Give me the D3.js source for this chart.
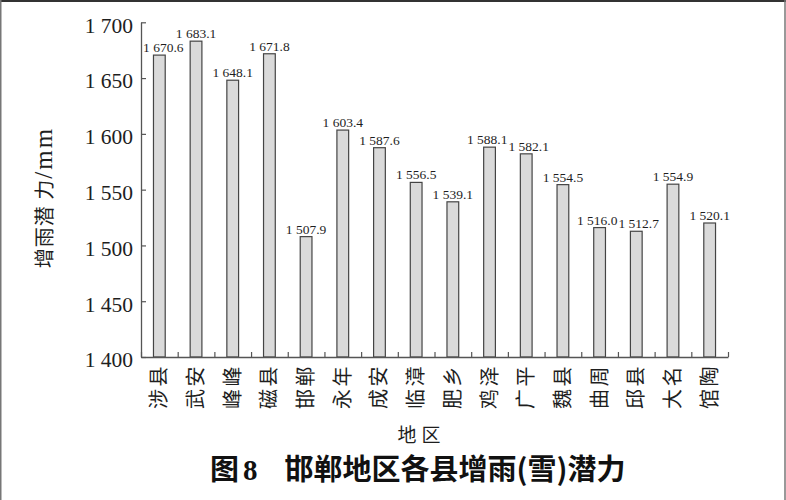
<!DOCTYPE html>
<html>
<head>
<meta charset="utf-8">
<script src="https://cdn.jsdelivr.net/npm/d3@7"></script>
<style>
  html, body { margin: 0; padding: 0; background: #fff; }
  svg { display: block; }
</style>
</head>
<body>
<div id="chart"></div>
<script>
// 邯郸地区各县增雨(雪)潜力 — single-series bar chart

const counties = ['涉县', '武安', '峰峰', '磁县', '邯郸', '永年', '成安', '临漳',
                  '肥乡', '鸡泽', '广平', '魏县', '曲周', '邱县', '大名', '馆陶'];
const potential = [1670.6, 1683.1, 1648.1, 1671.8, 1507.9, 1603.4, 1587.6, 1556.5,
                   1539.1, 1588.1, 1582.1, 1554.5, 1516.0, 1512.7, 1554.9, 1520.1];
const yTicks = [1400, 1450, 1500, 1550, 1600, 1650, 1700];

const yTitleCjk = '增雨潜 力';
const yTitleUnit = '/mm';
const xTitle = '地区';
const figNo = '8';
const figTitle = '邯郸地区各县增雨(雪)潜力';

const W = 786, H = 500;
const plot = { left: 141, right: 728, top: 22.3, bottom: 357 };

const SERIF = '"Liberation Serif", "Times New Roman", serif';
const CJK = '"Noto Sans CJK SC", "Noto Sans CJK TC", sans-serif';

// numbers grouped with a space, Chinese print style ("1 670.6")
const loc = d3.formatLocale({ decimal: '.', thousands: ' ', grouping: [3], currency: ['', ''] });
const fmtTick = loc.format(',d');
const fmtVal = loc.format(',.1f');

const data = counties.map((c, i) => ({ county: c, value: potential[i] }));

const svg = d3.select('#chart').append('svg')
    .attr('width', W)
    .attr('height', H);

// ── Scales ────────────────────────────────────────────────────────────────
const x = d3.scaleBand()
    .domain(counties)
    .range([plot.left, plot.right])
    .paddingInner(0.68)
    .paddingOuter(0.34);

// category boundaries, used for the small upward ticks
const xEdge = d3.scaleLinear()
    .domain([0, counties.length])
    .range([plot.left, plot.right]);

const y = d3.scaleLinear()
    .domain([1400, 1700])
    .range([plot.bottom, plot.top]);

// ── Bars ──────────────────────────────────────────────────────────────────
svg.append('g')
    .selectAll('rect')
    .data(data)
    .join('rect')
    .attr('x', d => x(d.county))
    .attr('y', d => y(d.value))
    .attr('width', x.bandwidth())
    .attr('height', d => plot.bottom - y(d.value))
    .attr('fill', '#dadada')
    .attr('stroke', '#444')
    .attr('stroke-width', 1.2);

// value labels
const labels = svg.append('g')
    .selectAll('text')
    .data(data)
    .join('text')
    .attr('y', d => y(d.value) - 3)
    .attr('text-anchor', 'middle')
    .style('font-family', SERIF)
    .style('font-size', '13.5px')
    .style('fill', '#1e1e1e')
    .text(d => fmtVal(d.value));

// nudge neighbouring labels apart when they sit at about the same height,
// and keep the first one clear of the y axis
const lab = [];
labels.each(function (d) {
    lab.push({ cx: x(d.county) + x.bandwidth() / 2, y: y(d.value), w: this.getComputedTextLength() });
});
for (let i = 0; i < lab.length - 1; i++) {
    const a = lab[i], b = lab[i + 1];
    const need = (a.w + b.w) / 2 + 1;
    if (Math.abs(a.y - b.y) < 13 && b.cx - a.cx < need) {
        const push = (need - (b.cx - a.cx)) / 2;
        a.cx -= push;
        b.cx += push;
    }
}
lab[0].cx = Math.max(lab[0].cx, plot.left + lab[0].w / 2 + 2);
labels.attr('x', (d, i) => lab[i].cx);

// ── Axes ──────────────────────────────────────────────────────────────────
const yAxis = svg.append('g')
    .attr('transform', `translate(${plot.left},0)`)
    .call(d3.axisLeft(y)
        .tickValues(yTicks)
        .tickSizeInner(-5)
        .tickSizeOuter(0)
        .tickPadding(8)
        .tickFormat(fmtTick));

yAxis.select('.domain').attr('stroke', '#555').attr('stroke-width', 1.3);
yAxis.selectAll('.tick line').attr('stroke', '#555').attr('stroke-width', 1.2);
yAxis.selectAll('.tick text')
    .attr('dy', '0.46em')
    .style('font-family', SERIF)
    .style('font-size', '21.5px')
    .style('fill', '#1e1e1e');

const xAxis = svg.append('g')
    .attr('transform', `translate(0,${plot.bottom})`)
    .call(d3.axisBottom(xEdge)
        .ticks(counties.length)
        .tickSizeInner(-5)
        .tickSizeOuter(0)
        .tickFormat(''));

xAxis.select('.domain').attr('stroke', '#555').attr('stroke-width', 1.3);
xAxis.selectAll('.tick line').attr('stroke', '#555').attr('stroke-width', 1.2);

// county names, rotated to read bottom-up
svg.append('g')
    .selectAll('text')
    .data(counties)
    .join('text')
    .attr('transform', d => `translate(${x(d) + x.bandwidth() / 2 - 1.5},${plot.bottom + 7}) rotate(-90)`)
    .attr('text-anchor', 'end')
    .attr('dominant-baseline', 'central')
    .style('font-family', CJK)
    .style('font-size', '20px')
    .style('letter-spacing', '2.5px')
    .style('fill', '#1e1e1e')
    .text(d => d);

// axis titles
const yt = svg.append('text')
    .attr('transform', 'translate(52,197.5) rotate(-90)')
    .attr('text-anchor', 'middle')
    .style('fill', '#1e1e1e');
yt.append('tspan')
    .style('font-family', CJK)
    .style('font-size', '20px')
    .style('letter-spacing', '1px')
    .text(yTitleCjk);
yt.append('tspan')
    .style('font-family', SERIF)
    .style('font-size', '25px')
    .style('letter-spacing', '2px')
    .text(yTitleUnit);

svg.append('text')
    .attr('x', 421.5)
    .attr('y', 442)
    .attr('text-anchor', 'middle')
    .style('font-family', CJK)
    .style('font-size', '19px')
    .style('letter-spacing', '5px')
    .style('fill', '#1e1e1e')
    .text(xTitle);

// ── Figure caption ────────────────────────────────────────────────────────
const cap = svg.append('text')
    .attr('x', 210)
    .attr('y', 480)
    .style('font-family', CJK)
    .style('font-size', '29px')
    .style('font-weight', 'bold')
    .style('fill', '#111');

cap.append('tspan').text('图');
cap.append('tspan')
    .attr('dx', 4)
    .style('font-family', SERIF)
    .text(figNo);
cap.append('tspan')
    .attr('dx', 27)
    .text(figTitle);

// scan frame: dark top edge, grey sides
svg.append('line').attr('x1', 0).attr('x2', W).attr('y1', 1).attr('y2', 1)
    .attr('stroke', '#333').attr('stroke-width', 2);
svg.append('line').attr('x1', 0.75).attr('x2', 0.75).attr('y1', 0).attr('y2', H)
    .attr('stroke', '#777').attr('stroke-width', 1.5);
svg.append('line').attr('x1', 785).attr('x2', 785).attr('y1', 0).attr('y2', H)
    .attr('stroke', '#777').attr('stroke-width', 1.5);
</script>
</body>
</html>
